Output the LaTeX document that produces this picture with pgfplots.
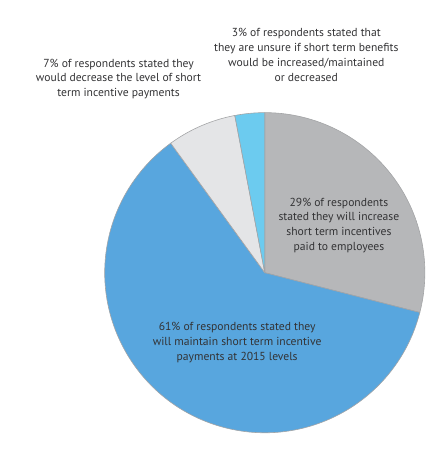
\documentclass[border=0pt]{standalone}
\usepackage{pgfplots}
\pgfplotsset{compat=1.18}
\usepackage{fontspec}
\setmainfont{PT Sans}
\definecolor{cgray}{HTML}{B6B7B9}
\definecolor{cblue}{HTML}{58A6DE}
\definecolor{clgray}{HTML}{E4E5E7}
\definecolor{clblue}{HTML}{6CCBEF}
\definecolor{edgec}{HTML}{A3A4A6}
\definecolor{txt}{HTML}{333335}
\def\startang{90}
\newcommand\slice[2]{%
  \pgfmathsetmacro\endang{\startang-#1*3.6}%
  \edef\tmp{\noexpand\filldraw[fill=#2,draw=edgec,line width=0.6pt] (axis cs:268,174) -- ++(\startang:162bp) arc[start angle=\startang,end angle=\endang,radius=162bp] -- cycle;}\tmp
  \global\let\startang\endang}
\begin{document}
\begin{tikzpicture}
\begin{axis}[width=450bp,height=450bp,scale only axis,xmin=0,xmax=450,ymin=0,ymax=450,hide axis,clip=false]
\path (axis cs:0,0) rectangle (axis cs:450,450);
\slice{29}{cgray}
\slice{61}{cblue}
\slice{7}{clgray}
\slice{3}{clblue}
\tikzset{lab/.style={align=center,text=txt,font=\fontsize{11.8}{15}\selectfont}}
\node[lab] at (axis cs:120,370) {7\% of respondents stated they\\would decrease the level of short\\term incentive payments};
\node[lab] at (axis cs:310,394.5) {3\% of respondents stated that\\they are unsure if short term benefits\\would be increased/maintained\\or decreased};
\node[lab] at (axis cs:343,222) {29\% of respondents\\stated they will increase\\short term incentives\\paid to employees};
\node[lab] at (axis cs:240,103.5) {61\% of respondents stated they\\will maintain short term incentive\\payments at 2015 levels};
\end{axis}
\end{tikzpicture}
\end{document}
